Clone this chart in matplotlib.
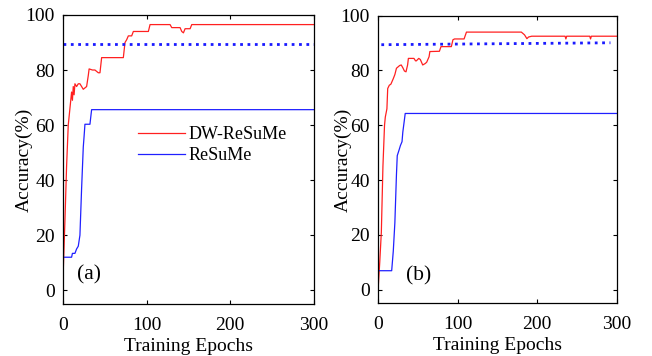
import matplotlib as mpl
import matplotlib.pyplot as plt

mpl.use('Agg')
mpl.rc("font", family="Liberation Serif", size=14)

# panel (a)
a_dw_x = [0, 2, 4, 6, 8, 10, 11, 12, 13, 14, 16, 18, 20, 22, 24, 26, 28, 30, 31, 35, 38, 40, 42, 44, 46,
          72, 74, 76, 78, 82, 84, 102, 104, 128, 130, 140, 142, 144, 146, 152, 154, 300]
a_dw_y = [7, 25, 45, 60, 66, 72, 69, 74, 71, 75, 74, 75, 75, 74, 73, 73.5, 74, 78, 80.4, 80, 80, 79.5, 79, 79, 84.5,
          84.5, 90, 91, 92.4, 92.4, 94, 94, 96.5, 96.5, 95.4, 95.4, 94, 93.5, 95, 95, 96.5, 96.5]
a_re_x = [0, 10, 11, 14, 16, 18, 20, 22, 24, 25, 26, 32, 33, 34, 300]
a_re_y = [12, 12, 13.4, 13.4, 15, 16, 20, 37, 52, 56, 60.3, 60.3, 63, 65.6, 65.6]
a_ref_x = [0, 300]
a_ref_y = [89.6, 89.6]

# panel (b)
b_dw_x = [0, 2, 4, 6, 8, 9, 11, 12, 14, 16, 19, 21, 23, 27, 29, 31, 33, 35, 37, 38, 45, 47, 48, 51, 53, 56, 59,
          61, 64, 65, 77, 79, 92, 94, 96, 108, 111, 180, 184, 187, 189, 193, 235, 236, 237, 266, 267, 268, 300]
b_dw_y = [0.5, 10, 21, 45, 60, 63, 66, 73.4, 74.6, 75, 77, 78.5, 80.8, 81.8, 82, 81, 79.8, 79.5, 82, 84.4, 84.4,
          83.5, 83.5, 84.4, 84, 82, 82.5, 83, 85, 86.9, 87, 88.7, 88.7, 91.2, 91.5, 91.5, 94, 94, 93, 91.6, 92.2,
          92.5, 92.5, 91.5, 92.5, 92.5, 91.5, 92.5, 92.5]
b_re_x = [0, 17, 19, 21, 23, 24, 26, 28, 30, 31, 33, 34, 300]
b_re_y = [6.9, 6.9, 14, 24.4, 42, 48.9, 50.7, 52.6, 54, 57.5, 62, 64.3, 64.3]
b_ref_x = [4, 292]
b_ref_y = [89.4, 90.1]

panels = [
    (a_dw_x, a_dw_y, a_re_x, a_re_y, a_ref_x, a_ref_y, "(a)", 31, 5.5, -5),
    (b_dw_x, b_dw_y, b_re_x, b_re_y, b_ref_x, b_ref_y, "(b)", 51, 5, -8),
]

fig = plt.figure(figsize=(6.52, 3.56), dpi=100)
rects = [[0.097, 0.146, 0.384, 0.812], [0.580, 0.148, 0.366, 0.808]]

for i, (dx, dy, rx, ry, fx, fy, lab, lx, ly, ypad) in enumerate(panels):
    ax = fig.add_axes(rects[i])
    ax.plot(dx, dy, color="#ff2020", lw=0.9, label="DW-ReSuMe")
    ax.plot(rx, ry, color="#2020ff", lw=0.9, label="ReSuMe")
    ax.plot(fx, fy, color="#1a1aff", lw=2, ls=":")
    ax.set_xlim(0, 300)
    ax.set_ylim(-5, 100)
    ax.set_xticks([0, 100, 200, 300])
    ax.set_yticks([0, 20, 40, 60, 80, 100])
    ax.tick_params(direction="in", top=True, right=True, length=3, labelsize=14, pad=6)
    ax.tick_params(axis="x", pad=9)
    ax.set_xlabel("Training Epochs", fontsize=14, labelpad=3)
    ax.set_ylabel("Accuracy(%)", fontsize=14, labelpad=ypad)
    ax.text(lx, ly, lab, fontsize=15.5, ha="center", va="center")
    for s in ax.spines.values():
        s.set_linewidth(0.9)
    if i == 0:
        ax.legend(loc="center left", bbox_to_anchor=(0.232, 0.55), frameon=False,
                  fontsize=13, handlelength=2.6, handletextpad=0.2, labelspacing=0.2)

fig.savefig("out.png", dpi=100)
